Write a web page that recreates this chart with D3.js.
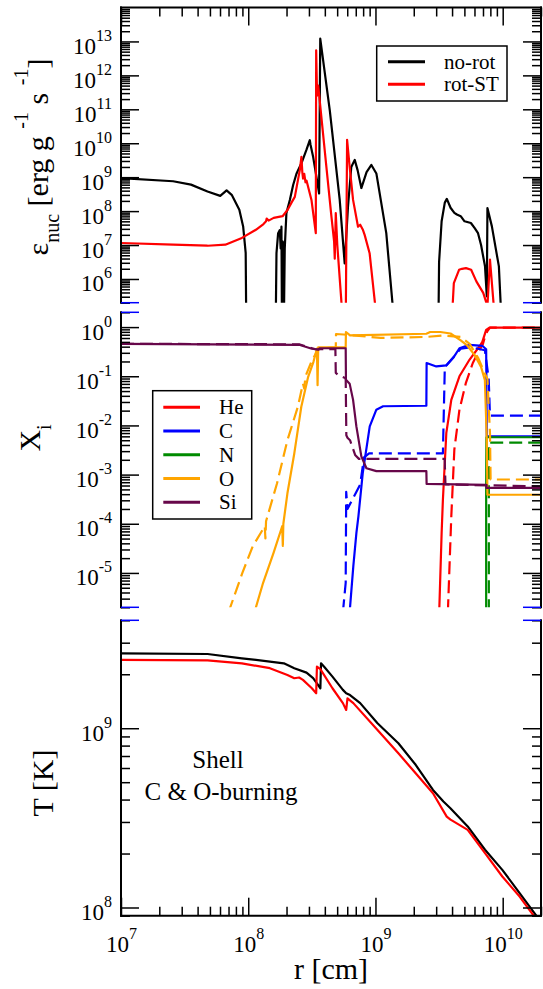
<!DOCTYPE html>
<html>
<head>
<meta charset="utf-8">
<script src="https://cdn.jsdelivr.net/npm/d3@7"></script>
<style>
  body { margin: 0; background: #fff; }
  svg, svg text { font-family: "Liberation Serif", "DejaVu Serif", serif; }
</style>
</head>
<body>
<div id="chart"></div>
<script>
// values, as [log10 r, log10 value]; null breaks a line
const epsNoRot = [
  [7.00, 8.97], [7.41, 8.88], [7.55, 8.78], [7.68, 8.58], [7.78, 8.45], [7.83, 8.61], [7.87, 8.48],
  [7.93, 8.04], [7.96, 7.55], [7.98, 6.77], [7.986, 4.0],
  [8.214, 4.0], [8.222, 6.76], [8.235, 7.35], [8.248, 7.44], [8.255, 6.9], [8.261, 7.54], [8.266, 4.0],
  [8.272, 7.1], [8.278, 4.0], [8.287, 6.9], [8.30, 7.94], [8.327, 8.33], [8.353, 8.77], [8.379, 9.10],
  [8.418, 9.41], [8.458, 9.81], [8.484, 10.09], [8.49, 9.95], [8.51, 9.60], [8.541, 8.90], [8.557, 8.52],
  [8.566, 13.08], [8.641, 10.97], [8.719, 8.33], [8.758, 6.46], [8.784, 8.13], [8.81, 9.3], [8.837, 9.51],
  [8.86, 9.2], [8.889, 8.68], [8.93, 9.15], [8.968, 9.36], [9.007, 9.11], [9.085, 7.35], [9.164, 4.0],
  [9.493, 4.0], [9.50, 6.5], [9.52, 7.7], [9.545, 8.25], [9.561, 8.36], [9.59, 8.1], [9.62, 7.95],
  [9.64, 7.9], [9.67, 7.85], [9.70, 7.7], [9.75, 7.65], [9.78, 7.5], [9.806, 7.35], [9.83, 7.0],
  [9.861, 6.37], [9.875, 5.49], [9.88, 8.09], [9.915, 7.55], [9.97, 6.37], [10.00, 4.0]
];
const epsRotST = [
  [7.00, 7.06], [7.41, 7.01], [7.68, 6.98], [7.82, 7.01], [7.95, 7.21], [8.06, 7.45], [8.12, 7.62],
  [8.14, 7.70], [8.145, 7.78], [8.16, 7.72], [8.20, 7.80], [8.27, 7.85], [8.31, 8.04], [8.34, 8.25],
  [8.366, 8.42], [8.38, 8.7], [8.405, 9.2], [8.418, 9.6], [8.425, 9.15], [8.431, 8.96], [8.44, 9.1],
  [8.45, 8.85], [8.458, 8.9], [8.497, 8.33], [8.531, 7.35], [8.534, 12.74], [8.541, 11.4], [8.55, 11.7],
  [8.614, 9.31], [8.654, 7.84], [8.675, 7.1], [8.68, 6.6], [8.688, 7.94], [8.70, 7.0], [8.758, 4.0],
  [8.765, 4.0], [8.777, 10.1], [8.797, 9.31], [8.824, 8.33], [8.863, 7.54], [8.88, 7.6], [8.902, 7.44],
  [8.915, 7.30], [8.954, 6.76], [9.033, 4.0],
  [9.589, 4.0], [9.616, 5.88], [9.657, 6.27], [9.68, 6.3], [9.711, 6.32], [9.752, 6.27], [9.793, 5.93],
  [9.847, 5.59], [9.88, 5.2], [9.90, 6.57], [9.956, 4.0]
];

const heSolid = [[9.501, -5.8], [9.52, -4.19], [9.53, -3.51], [9.557, -2.15], [9.596, -1.48], [9.66, -1.00],
  [9.74, -0.66], [9.818, -0.39], [9.84, -0.30], [9.87, -0.055], [9.896, -0.01], [10.31, -0.01]];
const heDashed = [[9.569, -5.8], [9.596, -3.85], [9.62, -2.49], [9.66, -1.68], [9.71, -1.14], [9.765, -0.73],
  [9.81, -0.5], [9.844, -0.35], [9.86, -0.2], [9.88, -0.08], [9.90, -0.01], [10.31, -0.01]];
const cSolid = [[8.797, -5.8], [8.826, -4.86], [8.85, -4.19], [8.866, -3.85], [8.90, -2.97], [8.955, -2.02],
  [9.007, -1.68], [9.06, -1.61], [9.40, -1.60], [9.402, -0.73], [9.478, -0.80], [9.557, -0.78], [9.61, -0.63],
  [9.66, -0.43], [9.74, -0.36], [9.84, -0.38], [9.87, -0.45], [9.875, -2.22], [10.31, -2.22]];
const cDashed = [[8.744, -5.8], [8.766, -5.2], [8.77, -3.35], [8.78, -3.7], [8.88, -3.2], [8.91, -2.65],
  [8.95, -2.57], [9.53, -2.57], [9.545, -0.81], [9.59, -0.68], [9.67, -0.44], [9.75, -0.41], [9.86, -0.47],
  [9.89, -1.05], [9.90, -1.80], [10.31, -1.80]];
const nSolid = [[9.870, -5.8], [9.870, -3.44], [9.872, -2.24], [10.31, -2.24]];
const nDashed = [[9.891, -5.8], [9.891, -2.35], [10.31, -2.35]];
const oSolid = [[8.049, -5.8], [8.117, -5.2], [8.199, -4.59], [8.267, -4.05], [8.272, -4.45], [8.276, -4.0],
  [8.308, -3.38], [8.362, -2.57], [8.417, -1.62], [8.471, -1.01], [8.512, -0.71], [8.54, -0.44],
  [8.545, -1.18], [8.55, -0.41], [8.766, -0.41], [8.768, -0.10], [8.80, -0.17], [9.40, -0.135],
  [9.43, -0.10], [9.51, -0.10], [9.59, -0.13], [9.67, -0.27], [9.72, -0.37], [9.78, -0.57], [9.83, -0.81],
  [9.86, -1.08], [9.875, -2.3], [9.88, -3.41], [10.31, -3.41]];
const oDashed = [[7.845, -5.8], [7.954, -5.0], [8.035, -4.46], [8.13, -4.05], [8.135, -4.3], [8.14, -3.95],
  [8.226, -3.18], [8.308, -2.30], [8.39, -1.62], [8.43, -1.15], [8.44, -1.25], [8.45, -1.0], [8.50, -0.68],
  [8.553, -0.44], [8.688, -0.41], [8.69, -0.14], [8.75, -0.15], [9.04, -0.22], [9.40, -0.20], [9.53, -0.17],
  [9.67, -0.20], [9.74, -0.34], [9.81, -0.64], [9.86, -0.95], [9.88, -1.05], [9.90, -2.16], [9.905, -3.10],
  [10.31, -3.10]];
const siSolid = [[7.00, -0.34], [8.40, -0.36], [8.50, -0.44], [8.553, -0.46], [8.56, -0.43], [8.766, -0.43],
  [8.768, -1.07], [8.797, -1.15], [8.824, -1.48], [8.85, -2.02], [8.889, -2.63], [8.929, -2.87],
  [9.007, -2.93], [9.40, -2.93], [9.402, -3.19], [9.87, -3.21], [9.872, -3.27], [10.31, -3.27]];
const siDashed = [[7.00, -0.34], [8.40, -0.35], [8.53, -0.45], [8.685, -0.45], [8.688, -0.93], [8.71, -0.98],
  [8.766, -1.04], [8.771, -2.2], [8.78, -2.25], [8.80, -2.3], [8.84, -2.6], [8.87, -2.68], [9.544, -2.68],
  [9.55, -3.2], [10.31, -3.24]];

const tNoRot = [[7.00, 9.418], [7.68, 9.414], [7.95, 9.39], [8.17, 9.372], [8.28, 9.362], [8.362, 9.335],
  [8.458, 9.31], [8.51, 9.279], [8.54, 9.25], [8.567, 9.223], [8.572, 9.362], [8.60, 9.34], [8.662, 9.288],
  [8.744, 9.214], [8.77, 9.195], [8.80, 9.185], [8.88, 9.14], [9.016, 9.028], [9.18, 8.916], [9.316, 8.796],
  [9.452, 8.656], [9.534, 8.591], [9.589, 8.554], [9.725, 8.452], [9.861, 8.322], [9.997, 8.21],
  [10.133, 8.08], [10.30, 7.92]];
const tRotST = [[7.00, 9.381], [7.68, 9.378], [7.95, 9.362], [8.17, 9.335], [8.308, 9.297], [8.362, 9.279],
  [8.40, 9.283], [8.43, 9.27], [8.50, 9.223], [8.534, 9.195], [8.54, 9.344], [8.567, 9.33], [8.662, 9.223],
  [8.744, 9.14], [8.77, 9.102], [8.78, 9.167], [8.826, 9.14], [9.016, 8.99], [9.18, 8.86], [9.316, 8.749],
  [9.452, 8.637], [9.56, 8.507], [9.59, 8.49], [9.725, 8.433], [9.861, 8.303], [9.997, 8.173],
  [10.133, 8.061], [10.30, 7.90]];

const models = ["no-rot", "rot-ST"];
const elements = ["He", "C", "N", "O", "Si"];
const elementColors = ["#ff0000", "#0000ff", "#008b00", "#ffa500", "#67074a"];

const xDomain = [1e7, 2e10];
const xTicks = [1e7, 1e8, 1e9, 1e10];
const epsTicks = [1e6, 1e7, 1e8, 1e9, 1e10, 1e11, 1e12, 1e13];
const abundTicks = [1e-5, 1e-4, 1e-3, 1e-2, 1e-1, 1];
const tempTicks = [1e8, 1e9];

const FONT = "'Liberation Serif', 'DejaVu Serif', serif";

const toPoints = arr => arr.map(d => d ? [10 ** d[0], 10 ** d[1]] : null);

function minorTicks(domain) {
    const out = [];
    const lo = Math.floor(Math.log10(domain[0])), hi = Math.ceil(Math.log10(domain[1]));
    for (let e = lo; e < hi; e++) {
        for (let m = 2; m <= 9; m++) {
            const v = m * 10 ** e;
            if (v >= domain[0] * 0.999 && v <= domain[1] * 1.001) out.push(v);
        }
    }
    return out;
}

const svg = d3.select("#chart").append("svg")
    .attr("width", 543)
    .attr("height", 989)
    .style("font-family", FONT);

class LogPanel {
    constructor(_config, series) {
        this.config = {
            id: _config.id,
            top: _config.top,
            bottom: _config.bottom,
            left: 121,
            right: 541,
            yDomain: _config.yDomain,
            yTicks: _config.yTicks,
            topAxis: _config.topAxis || false,
            bottomAxis: _config.bottomAxis || false
        };
        this.series = series;
        this.initVis();
    }

    initVis() {
        let vis = this;
        const c = vis.config;

        vis.x = d3.scaleLog().domain(xDomain).range([c.left, c.right]);
        vis.y = d3.scaleLog().domain(c.yDomain).range([c.bottom, c.top]);

        vis.g = svg.append("g");
        vis.g.append("clipPath").attr("id", c.id)
            .append("rect")
            .attr("x", c.left).attr("y", c.top)
            .attr("width", c.right - c.left).attr("height", c.bottom - c.top);

        vis.lineGroup = vis.g.append("g").attr("clip-path", `url(#${c.id})`);
        vis.axisGroup = vis.g.append("g");

        vis.line = d3.line()
            .defined(d => d !== null)
            .x(d => vis.x(d[0]))
            .y(d => vis.y(d[1]));

        vis.renderVis();
    }

    labelTicks(sel, anchor, dx, dy) {
        sel.selectAll(".tick").append("text")
            .attr("class", "lab")
            .attr("x", dx).attr("y", dy)
            .attr("text-anchor", anchor)
            .attr("fill", "#000")
            .style("font-family", FONT)
            .each(function(d) {
                const t = d3.select(this);
                t.append("tspan").attr("font-size", 23).text("10");
                t.append("tspan").attr("font-size", 16).attr("dy", -13)
                    .text(Math.round(Math.log10(d)));
            });
    }

    renderVis() {
        let vis = this;
        const c = vis.config;

        vis.lineGroup.selectAll(".curve")
            .data(vis.series)
            .join("path")
            .attr("class", "curve")
            .attr("d", d => vis.line(toPoints(d.values)))
            .attr("fill", "none")
            .attr("stroke", d => d.color)
            .attr("stroke-width", 2.2)
            .attr("stroke-linejoin", "round")
            .attr("stroke-dasharray", d => d.dashed ? "13,6" : null);

        const yMinor = minorTicks(c.yDomain);
        const xMinor = minorTicks(xDomain);

        const axes = [
            {axis: d3.axisLeft(vis.y).tickValues(c.yTicks).tickSize(-18), at: [c.left, 0], label: true},
            {axis: d3.axisLeft(vis.y).tickValues(yMinor).tickSize(-9), at: [c.left, 0]},
            {axis: d3.axisRight(vis.y).tickValues(c.yTicks).tickSize(-18), at: [c.right, 0]},
            {axis: d3.axisRight(vis.y).tickValues(yMinor).tickSize(-9), at: [c.right, 0]}
        ];
        if (c.topAxis) {
            axes.push({axis: d3.axisTop(vis.x).tickValues(xTicks).tickSize(-18), at: [0, c.top]});
            axes.push({axis: d3.axisTop(vis.x).tickValues(xMinor).tickSize(-9), at: [0, c.top]});
        }
        if (c.bottomAxis) {
            axes.push({axis: d3.axisBottom(vis.x).tickValues(xTicks).tickSize(-18), at: [0, c.bottom], xlabel: true});
            axes.push({axis: d3.axisBottom(vis.x).tickValues(xMinor).tickSize(-9), at: [0, c.bottom]});
        }

        axes.forEach(a => {
            const g = vis.axisGroup.append("g")
                .attr("transform", `translate(${a.at[0]},${a.at[1]})`)
                .call(a.axis.tickFormat(""));
            g.attr("font-family", null);
            g.select(".domain").remove();
            g.selectAll(".tick text").remove();
            g.selectAll(".tick line").attr("stroke", "#000").attr("stroke-width", 1.5);
            if (a.label) vis.labelTicks(g, "end", -9, 12);
            if (a.xlabel) vis.labelTicks(g, "middle", 0, 36);
        });

        // frame: verticals always, horizontals only on the outer edges
        const frame = [[c.left, c.top, c.left, c.bottom], [c.right, c.top, c.right, c.bottom]];
        if (c.topAxis) frame.push([c.left, c.top, c.right, c.top]);
        if (c.bottomAxis) frame.push([c.left, c.bottom, c.right, c.bottom]);
        vis.axisGroup.selectAll(".frame")
            .data(frame)
            .join("line")
            .attr("class", "frame")
            .attr("x1", d => d[0]).attr("y1", d => d[1])
            .attr("x2", d => d[2]).attr("y2", d => d[3])
            .attr("stroke", "#000")
            .attr("stroke-width", 2)
            .attr("stroke-linecap", "square");

        // short blue stubs where the inner panel edges meet the sides
        const stubs = [];
        if (!c.topAxis) stubs.push(c.top);
        if (!c.bottomAxis) stubs.push(c.bottom);
        stubs.forEach(yy => {
            [[c.left, c.left + 18], [c.right - 18, c.right]].forEach(xx => {
                vis.axisGroup.append("line")
                    .attr("x1", xx[0]).attr("x2", xx[1])
                    .attr("y1", yy).attr("y2", yy)
                    .attr("stroke", "#0000ff")
                    .attr("stroke-width", 1.5);
            });
        });
    }
}

const epsPanel = new LogPanel({id: "clip-eps", top: 7.5, bottom: 302.7, yDomain: [2e5, 1e14], yTicks: epsTicks, topAxis: true}, [
    {values: epsNoRot, color: "#000"},
    {values: epsRotST, color: "#ff0000"}
]);

const abundPanel = new LogPanel({id: "clip-x", top: 312.3, bottom: 607.3, yDomain: [2e-6, 2], yTicks: abundTicks}, [
    {values: heSolid, color: elementColors[0]}, {values: heDashed, color: elementColors[0], dashed: true},
    {values: cSolid, color: elementColors[1]}, {values: cDashed, color: elementColors[1], dashed: true},
    {values: nSolid, color: elementColors[2]}, {values: nDashed, color: elementColors[2], dashed: true},
    {values: oSolid, color: elementColors[3]}, {values: oDashed, color: elementColors[3], dashed: true},
    {values: siSolid, color: elementColors[4]}, {values: siDashed, color: elementColors[4], dashed: true}
]);

const tempPanel = new LogPanel({id: "clip-t", top: 620.3, bottom: 915.7, yDomain: [9e7, 4e9], yTicks: tempTicks, bottomAxis: true}, [
    {values: tNoRot, color: "#000"},
    {values: tRotST, color: "#ff0000"}
]);

// legends
const legTop = svg.append("g");
legTop.append("rect")
    .attr("x", 376.7).attr("y", 46).attr("width", 130.3).attr("height", 55)
    .attr("fill", "#fff").attr("stroke", "#000").attr("stroke-width", 1.5);
models.forEach((m, i) => {
    const yy = 61.7 + i * 22.6;
    legTop.append("line").attr("x1", 388).attr("x2", 425).attr("y1", yy).attr("y2", yy)
        .attr("stroke", i === 0 ? "#000" : "#ff0000").attr("stroke-width", 3);
    legTop.append("text").attr("x", 444).attr("y", yy + 7).attr("font-size", 21).text(m);
});

const legMid = svg.append("g");
legMid.append("rect")
    .attr("x", 152.7).attr("y", 390.7).attr("width", 99).attr("height", 128.3)
    .attr("fill", "#fff").attr("stroke", "#000").attr("stroke-width", 1.5);
elements.forEach((el, i) => {
    const yy = 407.3 + i * 23.75;
    legMid.append("line").attr("x1", 163.3).attr("x2", 200).attr("y1", yy).attr("y2", yy)
        .attr("stroke", elementColors[i]).attr("stroke-width", 3);
    legMid.append("text").attr("x", 219).attr("y", yy + 7).attr("font-size", 21).text(el);
});

// axis titles
const epsTitle = svg.append("text")
    .attr("transform", "translate(48,157) rotate(-90)")
    .attr("text-anchor", "middle")
    .attr("font-size", 30);
epsTitle.append("tspan").text("ε");
epsTitle.append("tspan").attr("font-size", 20).attr("dy", 11).text("nuc");
epsTitle.append("tspan").attr("dy", -11).text(" [erg g ");
epsTitle.append("tspan").attr("font-size", 20).attr("dy", -20).text("-1");
epsTitle.append("tspan").attr("dy", 20).text("  s ");
epsTitle.append("tspan").attr("font-size", 20).attr("dy", -20).text("-1");
epsTitle.append("tspan").attr("dy", 20).text("]");

const xiTitle = svg.append("text")
    .attr("transform", "translate(39.5,438) rotate(-90)")
    .attr("text-anchor", "middle")
    .attr("font-size", 30);
xiTitle.append("tspan").text("X");
xiTitle.append("tspan").attr("font-size", 20).attr("dy", 11).text("i");

svg.append("text")
    .attr("transform", "translate(53,783) rotate(-90)")
    .attr("text-anchor", "middle")
    .attr("font-size", 30)
    .text("T [K]");

svg.append("text")
    .attr("x", 331).attr("y", 979)
    .attr("text-anchor", "middle")
    .attr("font-size", 30)
    .text("r [cm]");

svg.append("text")
    .attr("x", 218).attr("y", 768)
    .attr("text-anchor", "middle")
    .attr("font-size", 25)
    .text("Shell");
svg.append("text")
    .attr("x", 221).attr("y", 800)
    .attr("text-anchor", "middle")
    .attr("font-size", 25)
    .text("C & O-burning");
</script>
</body>
</html>
